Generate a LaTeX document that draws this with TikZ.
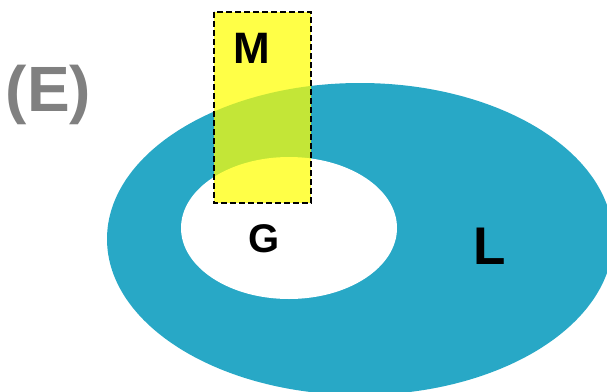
\documentclass[tikz,border=0pt]{standalone}
\usepackage{fontspec}
\setmainfont{Liberation Sans}
\definecolor{ringblue}{RGB}{40,168,198}
\definecolor{labelgray}{RGB}{128,128,128}
\definecolor{boxyellow}{RGB}{255,255,0}
\tikzset{
  lbl/.style={inner sep=0pt, anchor=base, font=\bfseries},
  regionbox/.style={fill=boxyellow, fill opacity=0.72, draw=black, draw opacity=1,
    line width=2.2pt, dash pattern=on 6pt off 3pt}
}
\begin{document}
\begin{tikzpicture}[x=1pt, y=-1pt]
  \useasboundingbox (0,0) rectangle (607,391);
  % outer region L with the hole G
  \fill[ringblue] (360,239) ellipse [x radius=253, y radius=156];
  \fill[white] (289,228) ellipse [x radius=108, y radius=71];
  % region M overlapping both
  \draw[regionbox] (214,12) rectangle (311,203);
  % labels
  \node[lbl, text=labelgray, font=\bfseries\fontsize{64}{76}\selectfont] (tagE) at (48.5,111) {(E)};
  \node[lbl, font=\bfseries\fontsize{44}{52}\selectfont] (labM) at (252,63) {M};
  \node[lbl, font=\bfseries\fontsize{40}{48}\selectfont] (labG) at (264.5,252) {G};
  \node[lbl, font=\bfseries\fontsize{53}{62}\selectfont] (labL) at (490,264) {L};
\end{tikzpicture}
\end{document}
